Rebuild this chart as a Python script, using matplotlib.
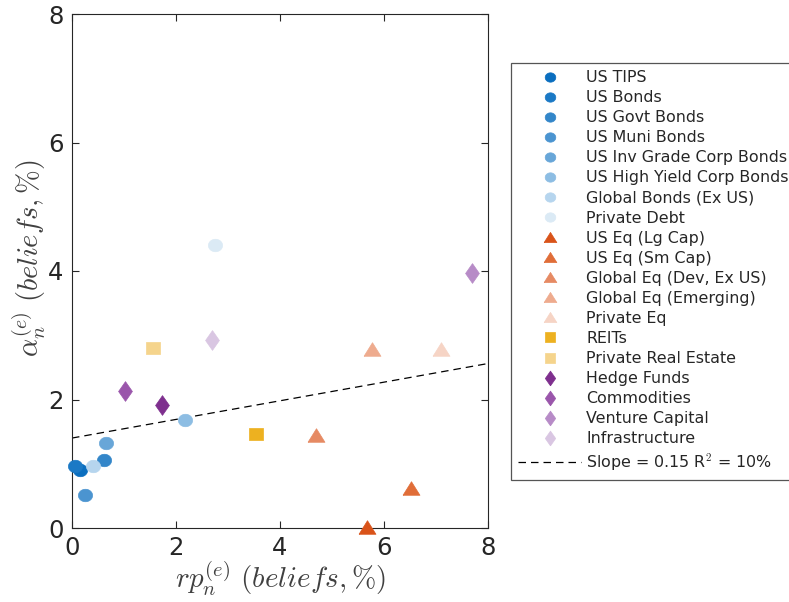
import matplotlib
matplotlib.use("Agg")
import matplotlib.pyplot as plt
from matplotlib.path import Path
import numpy as np

plt.rcParams['font.family'] = ['DejaVu Sans']
plt.rcParams['mathtext.fontset'] = 'cm'

names = ["US TIPS", "US Bonds", "US Govt Bonds", "US Muni Bonds",
         "US Inv Grade Corp Bonds", "US High Yield Corp Bonds",
         "Global Bonds (Ex US)", "Private Debt",
         "US Eq (Lg Cap)", "US Eq (Sm Cap)", "Global Eq (Dev, Ex US)",
         "Global Eq (Emerging)", "Private Eq",
         "REITs", "Private Real Estate",
         "Hedge Funds", "Commodities", "Venture Capital", "Infrastructure"]
rp = [0.15, 0.06, 0.62, 0.25, 0.65, 2.17, 0.40, 2.75,
      5.67, 6.52, 4.70, 5.77, 7.10,
      3.54, 1.56,
      1.73, 1.02, 7.69, 2.69]
alpha_vals = [0.90, 0.97, 1.06, 0.51, 1.33, 1.68, 0.97, 4.40,
              0.02, 0.62, 1.45, 2.79, 2.79,
              1.46, 2.80,
              1.91, 2.14, 3.97, 2.93]
groups = ['circle'] * 8 + ['triangle'] * 5 + ['square'] * 2 + ['diamond'] * 4
colors = ["#0a6ebf", "#1b79c5", "#3386c9", "#4b94d0", "#68a6d8", "#8dbde3", "#b6d5ee", "#dbeaf5",
          "#d95319", "#e06d38", "#e68a63", "#eeab8e", "#f6d4c5",
          "#edb120", "#f5d48c",
          "#7e2f8e", "#9a56ab", "#b78bc7", "#d9c6e2"]
fit_intercept = 1.40
fit_slope = 0.145
fit_label = "Slope = 0.15 R$^2$ = 10%"

# marker shapes (slightly stretched as in the reference)
t = np.linspace(0, 2 * np.pi, 60)
shape_paths = {
    'circle': Path(np.column_stack([np.cos(t), 0.88 * np.sin(t)])),
    'triangle': Path([(-1, -0.8), (1, -0.8), (0, 0.8), (-1, -0.8)]),
    'square': Path([(-1, -0.95), (1, -0.95), (1, 0.95), (-1, 0.95), (-1, -0.95)]),
    'diamond': Path([(0, -1), (0.7, 0), (0, 1), (-0.7, 0), (0, -1)]),
}
shape_sizes = {'circle': 10.2, 'triangle': 12.2, 'square': 9.4, 'diamond': 14.2}

fig = plt.figure(figsize=(7.89, 6.02), dpi=100)
ax = fig.add_axes([72/789, 1 - 528/602, (488-72)/789, (528-14)/602])

for n, x, y, g, c in zip(names, rp, alpha_vals, groups, colors):
    ax.plot([x], [y], linestyle='none', marker=shape_paths[g], markersize=shape_sizes[g],
            color=c, markeredgecolor=c, markeredgewidth=0.5, label=n, clip_on=False, zorder=3)

xs = np.array([0, 8])
ax.plot(xs, fit_intercept + fit_slope * xs, color='black', linestyle=(0, (6, 4)),
        linewidth=0.9, label=fit_label, zorder=2)

ax.set_xlim(0, 8)
ax.set_ylim(0, 8)
ax.set_xticks([0, 2, 4, 6, 8])
ax.set_yticks([0, 2, 4, 6, 8])
ax.tick_params(direction='in', top=True, right=True, labelsize=17.5, colors='#262626',
               length=5, width=0.8, pad=6)
for s in ax.spines.values():
    s.set_color('#262626')
    s.set_linewidth(0.8)
ax.set_xlabel(r"$rp_n^{(e)}\ (beliefs, \%)$", fontsize=21, color='#404040', labelpad=0)
ax.set_ylabel(r"$\alpha_n^{(e)}\ (beliefs, \%)$", fontsize=20.5, color='#404040')
ax.yaxis.set_label_coords(-0.057, 0.525)

leg = ax.legend(loc='upper left', bbox_to_anchor=(511/789, 1 - 63/602),
                bbox_transform=fig.transFigure, fontsize=11.4, markerscale=0.75,
                frameon=True, fancybox=False, edgecolor='#555555', framealpha=1,
                handlelength=4.0, handletextpad=0.3, labelspacing=0.32,
                borderpad=0.45, borderaxespad=0)
leg.get_frame().set_linewidth(0.9)
for tx in leg.get_texts():
    tx.set_color('#262626')

fig.savefig("out.png", dpi=100)
